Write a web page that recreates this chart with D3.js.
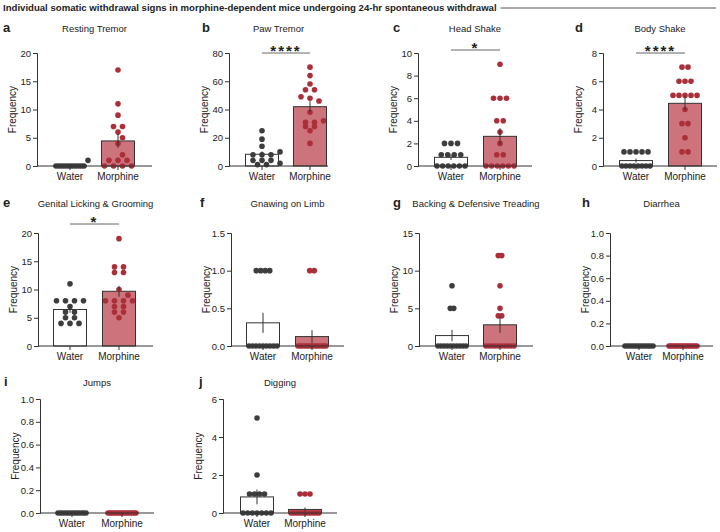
<!DOCTYPE html>
<html>
<head>
<meta charset="utf-8">
<script src="https://cdn.jsdelivr.net/npm/d3@7"></script>
<style>
  body { margin: 0; background: #fff; }
  text { font-family: "Liberation Sans", Arial, sans-serif; fill: #222; }
</style>
</head>
<body>
<div id="chart"></div>
<script>
// groups and panel info
const groups = ["Water", "Morphine"];
const panelLetters = ["a", "b", "c", "d", "e", "f", "g", "h", "i", "j"];
const panelTitles = ["Resting Tremor", "Paw Tremor", "Head Shake", "Body Shake",
  "Genital Licking & Grooming", "Gnawing on Limb", "Backing & Defensive Treading",
  "Diarrhea", "Jumps", "Digging"];
const yMaxes = [20, 80, 10, 8, 20, 1.5, 15, 1, 1, 6];
const yTickSteps = [5, 20, 2, 2, 5, 0.5, 5, 0.2, 0.2, 2];
const significance = ["", "****", "*", "****", "*", "", "", "", "", ""];

// individual animals
const restingWater = [0, 0, 0, 0, 0, 0, 0, 0, 0, 0, 0, 0, 1];
const restingMorphine = [17, 11, 9, 7, 7, 6, 5, 4, 2, 1, 1, 1, 0, 0, 0, 0];
const pawWater = [25, 19, 14, 10, 8, 8, 8, 4, 4, 4, 2, 1, 1];
const pawMorphine = [70, 64, 58, 54, 54, 48, 46, 49, 38, 32, 31, 31, 28, 28, 25, 16];
const headWater = [2, 2, 2, 1, 1, 1, 1, 0, 0, 0, 0, 0, 0];
const headMorphine = [9, 6, 6, 6, 4, 4, 3, 2, 1, 1, 0, 0, 0, 0, 0, 0];
const bodyWater = [1, 1, 1, 1, 1, 0, 0, 0, 0, 0, 0, 0, 0];
const bodyMorphine = [7, 7, 6, 6, 6, 5, 5, 5, 5, 5, 4, 3, 3, 2, 1, 1];
const groomWater = [11, 8, 8, 8, 8, 7, 6, 6, 5, 5, 4, 4, 4];
const groomMorphine = [19, 14, 14, 13, 13, 10, 9, 8, 8, 8, 8, 7, 7, 6, 6, 5];
const gnawWater = [1, 1, 1, 1, 0, 0, 0, 0, 0, 0, 0, 0, 0];
const gnawMorphine = [1, 1, 0, 0, 0, 0, 0, 0, 0, 0, 0, 0, 0, 0, 0, 0];
const backWater = [8, 5, 5, 0, 0, 0, 0, 0, 0, 0, 0, 0, 0];
const backMorphine = [12, 12, 8, 5, 4, 4, 0, 0, 0, 0, 0, 0, 0, 0, 0, 0];
const diarrheaWater = [0, 0, 0, 0, 0, 0, 0, 0, 0, 0, 0, 0, 0];
const diarrheaMorphine = [0, 0, 0, 0, 0, 0, 0, 0, 0, 0, 0, 0, 0, 0, 0, 0];
const jumpsWater = [0, 0, 0, 0, 0, 0, 0, 0, 0, 0, 0, 0, 0];
const jumpsMorphine = [0, 0, 0, 0, 0, 0, 0, 0, 0, 0, 0, 0, 0, 0, 0, 0];
const diggingWater = [5, 2, 1, 1, 1, 1, 0, 0, 0, 0, 0, 0, 0];
const diggingMorphine = [1, 1, 1, 0, 0, 0, 0, 0, 0, 0, 0, 0, 0, 0, 0, 0];

const waterSets = [restingWater, pawWater, headWater, bodyWater, groomWater,
  gnawWater, backWater, diarrheaWater, jumpsWater, diggingWater];
const morphineSets = [restingMorphine, pawMorphine, headMorphine, bodyMorphine, groomMorphine,
  gnawMorphine, backMorphine, diarrheaMorphine, jumpsMorphine, diggingMorphine];

// where each panel sits on the page (sp = dot spacing in a row)
const layout = [
  { ax: 37, top: 53, bot: 166, len: 115, lx: 3, ty: 32, sigY: null, wo: 33, mo: 81, sp: 9 },
  { ax: 229, top: 53, bot: 166, len: 99, lx: 202, ty: 32, sigY: 53, wo: 33, mo: 81, sp: 9 },
  { ax: 418, top: 53, bot: 166, len: 114, lx: 393, ty: 32, sigY: 50, wo: 33, mo: 82, sp: 6.5 },
  { ax: 603, top: 53, bot: 166, len: 114, lx: 575, ty: 32, sigY: 53, wo: 33, mo: 82, sp: 6 },
  { ax: 38, top: 233, bot: 346, len: 115, lx: 3, ty: 207, sigY: 224, wo: 32, mo: 81, sp: 9 },
  { ax: 231, top: 233, bot: 346, len: 113, lx: 200, ty: 207, sigY: null, wo: 32, mo: 81, sp: 4.5 },
  { ax: 419, top: 233, bot: 346, len: 114, lx: 393, ty: 207, sigY: null, wo: 33, mo: 81, sp: 3.5 },
  { ax: 610, top: 233, bot: 346, len: 103, lx: 582, ty: 207, sigY: null, wo: 29, mo: 73, sp: 9 },
  { ax: 40, top: 399, bot: 513, len: 114, lx: 4, ty: 386, sigY: null, wo: 32, mo: 82, sp: 9 },
  { ax: 223, top: 399, bot: 513, len: 114, lx: 199, ty: 386, sigY: null, wo: 34, mo: 82, sp: 5 }
];

const colors = { Water: "#3d3d3d", Morphine: "#ab2e39" };
const barFill = { Water: "#ffffff", Morphine: "#cd737b" };
const axisColor = "#333";
const barW = 33, r = 2.8;

var svg = d3.select("#chart").append("svg").attr("width", 720).attr("height", 532);

// main heading with rule
var heading = svg.append("text")
  .attr("x", 3).attr("y", 11)
  .style("font-size", "9.6px").style("font-weight", "bold")
  .text("Individual somatic withdrawal signs in morphine-dependent mice undergoing 24-hr spontaneous withdrawal");
var hw = heading.node().getComputedTextLength();
svg.append("line")
  .attr("x1", 3 + hw + 4).attr("x2", 716).attr("y1", 8).attr("y2", 8)
  .attr("stroke", "#8c8c8c").attr("stroke-width", 1.4);

// spread dots sideways like prism does
function swarm(vals, y, cx, spacing) {
  const counts = d3.rollup(vals, v => v.length, d => d);
  const keys = Array.from(counts.keys()).sort((a, b) => counts.get(b) - counts.get(a));
  const out = [];
  keys.forEach(function (v) {
    const n = counts.get(v);
    if (n > 1) {
      const sp = Math.min(spacing, 28 / (n - 1));
      for (let i = 0; i < n; i++) out.push({ v: v, x: cx + (i - (n - 1) / 2) * sp, y: y(v) });
    } else {
      let off = 0;
      for (let k = 0; k < 20; k++) {
        const o = (k % 2 ? 1 : -1) * Math.ceil(k / 2) * 4.5;
        const free = out.every(p => Math.hypot(p.x - (cx + o), p.y - y(v)) >= 5.8);
        if (free) { off = o; break; }
      }
      out.push({ v: v, x: cx + off, y: y(v) });
    }
  });
  return out;
}

panelLetters.forEach(function (letter, i) {
  const L = layout[i];
  const g = svg.append("g");
  const y = d3.scaleLinear().domain([0, yMaxes[i]]).range([L.bot, L.top]);
  const x = d3.scaleOrdinal().domain(groups).range([L.ax + L.wo, L.ax + L.mo]);
  const sets = { Water: waterSets[i], Morphine: morphineSets[i] };

  // letter + title
  g.append("text").attr("x", L.lx).attr("y", L.ty)
    .style("font-size", "13px").style("font-weight", "bold").text(letter);
  g.append("text").attr("x", L.ax + L.len / 2).attr("y", L.ty)
    .attr("text-anchor", "middle").style("font-size", "9.5px").text(panelTitles[i]);

  // bars
  groups.forEach(function (grp) {
    const vals = sets[grp];
    const m = d3.mean(vals);
    const sem = d3.deviation(vals) / Math.sqrt(vals.length) || 0;
    g.append("rect")
      .attr("x", x(grp) - barW / 2).attr("width", barW)
      .attr("y", y(m)).attr("height", y(0) - y(m))
      .attr("fill", barFill[grp]).attr("stroke", axisColor).attr("stroke-width", 1);
    // dots
    g.selectAll(null).data(swarm(vals, y, x(grp), L.sp)).enter()
      .append("circle")
      .attr("cx", d => d.x).attr("cy", d => d.y).attr("r", r)
      .attr("fill", colors[grp]);
    // sem line
    if (sem > 0) {
      g.append("line")
        .attr("x1", x(grp)).attr("x2", x(grp))
        .attr("y1", y(m - sem)).attr("y2", y(m + sem))
        .attr("stroke", axisColor).attr("stroke-width", 1);
    }
  });

  // axes
  const ticks = d3.range(0, yMaxes[i] + 1e-9, yTickSteps[i]);
  const fmt = yTickSteps[i] < 1 ? d3.format(".1f") : d3.format("d");
  const yAxis = d3.axisLeft(y).tickValues(ticks).tickFormat(fmt).tickSize(4).tickPadding(2);
  const ya = g.append("g").attr("transform", "translate(" + L.ax + ",0)").call(yAxis);
  ya.select(".domain").attr("stroke", axisColor);
  ya.selectAll(".tick line").attr("stroke", axisColor);
  ya.selectAll("text").style("font-size", "9.5px").attr("fill", "#222")
    .style("font-family", "'Liberation Sans', Arial, sans-serif");

  g.append("line")
    .attr("x1", L.ax).attr("x2", L.ax + L.len).attr("y1", L.bot).attr("y2", L.bot)
    .attr("stroke", axisColor);
  groups.forEach(function (grp) {
    g.append("line").attr("x1", x(grp)).attr("x2", x(grp))
      .attr("y1", L.bot).attr("y2", L.bot + 4).attr("stroke", axisColor);
    g.append("text").attr("x", x(grp)).attr("y", L.bot + 14)
      .attr("text-anchor", "middle").style("font-size", "10px").text(grp);
  });

  // y label
  g.append("text")
    .attr("transform", "translate(" + (L.ax - 21) + "," + ((L.top + L.bot) / 2) + ") rotate(-90)")
    .attr("text-anchor", "middle").style("font-size", "10px").text("Frequency");

  // significance
  if (L.sigY !== null) {
    g.append("line")
      .attr("x1", x("Water")).attr("x2", x("Morphine"))
      .attr("y1", L.sigY).attr("y2", L.sigY)
      .attr("stroke", "#666").attr("stroke-width", 1);
    g.append("text")
      .attr("x", (x("Water") + x("Morphine")) / 2).attr("y", L.sigY + 3)
      .attr("text-anchor", "middle")
      .style("font-size", "15px").style("font-weight", "bold").style("letter-spacing", "2px")
      .text(significance[i]);
  }
});
</script>
</body>
</html>
